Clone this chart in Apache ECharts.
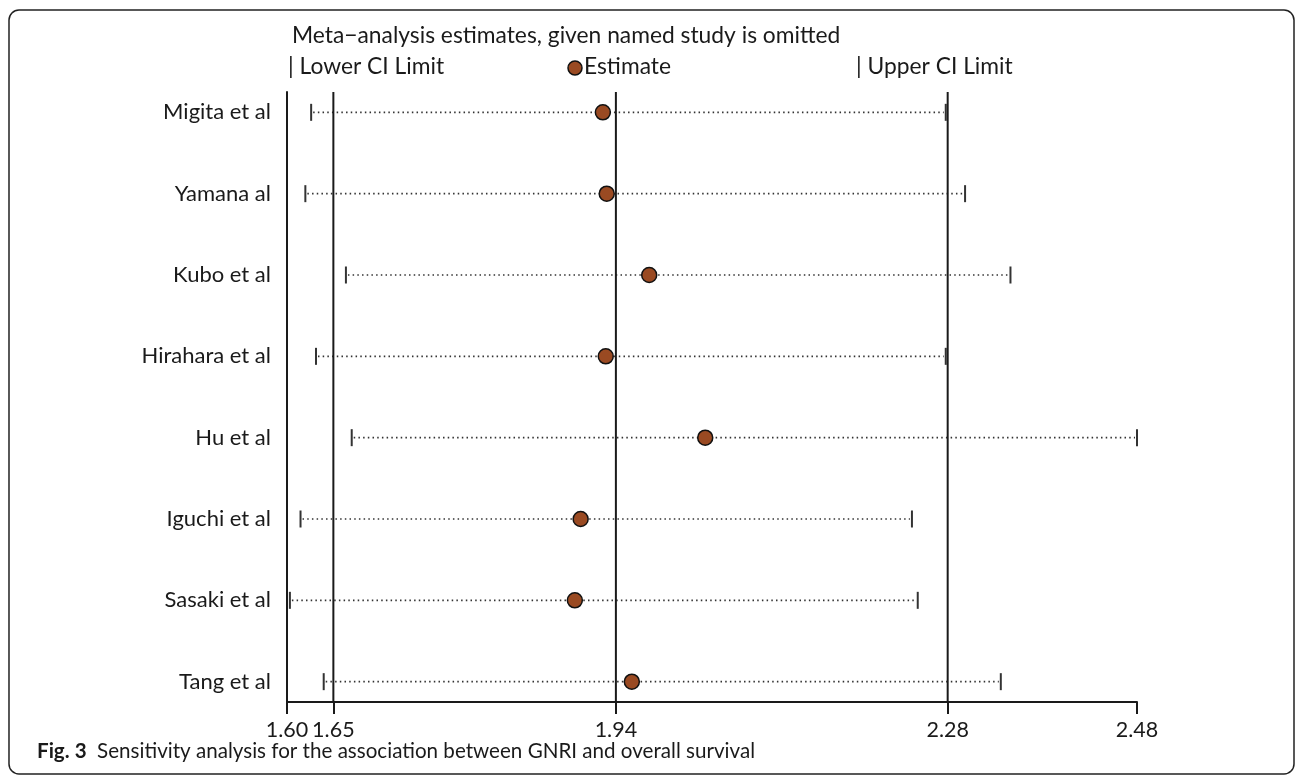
<!DOCTYPE html>
<html>
<head>
<meta charset="utf-8">
<script src="https://cdn.jsdelivr.net/npm/echarts@6/dist/echarts.min.js"></script>
<style>
html,body{margin:0;padding:0;background:#fff;}
#chart{width:1295px;height:776px;}
</style>
</head>
<body>
<div id="chart"></div>
<script>
// Data
const studies = ['Migita et al','Yamana al','Kubo et al','Hirahara et al','Hu et al','Iguchi et al','Sasaki et al','Tang et al'];
const lowerCI  = [1.625, 1.619, 1.661, 1.630, 1.667, 1.614, 1.603, 1.638];
const estimate = [1.927, 1.931, 1.975, 1.930, 2.033, 1.904, 1.898, 1.957];
const upperCI  = [2.282, 2.302, 2.349, 2.282, 2.480, 2.247, 2.253, 2.339];
const tickValues = [1.600, 1.648, 1.9405, 2.284, 2.480];
const refLines = [1.648, 1.9405, 2.284];
const rowIndex = studies.map((s, i) => i + 1);

const FONT = 'Lato, "Open Sans", sans-serif';
const chart = echarts.init(document.getElementById('chart'));

const ciData = studies.map((s, i) => [lowerCI[i], upperCI[i], rowIndex[i]]);
const estData = studies.map((s, i) => [estimate[i], rowIndex[i]]);
const refData = refLines.map(v => [v]);

const option = {
  animation: false,
  backgroundColor: '#fff',
  grid: { left: 287, right: 158, top: 92, bottom: 74, containLabel: false },
  xAxis: {
    type: 'value', min: 1.60, max: 2.48,
    axisLine: { show: true, lineStyle: { color: '#1a1a1a', width: 2 } },
    axisTick: { show: true, customValues: tickValues, length: 12, lineStyle: { color: '#1a1a1a', width: 2 } },
    axisLabel: { customValues: tickValues, formatter: v => v.toFixed(2), fontFamily: FONT, fontSize: 21.5, color: '#1a1a1a', margin: 17 },
    splitLine: { show: false }
  },
  yAxis: {
    type: 'value', min: 0.75, max: 8.25, inverse: true,
    axisLine: { show: true, lineStyle: { color: '#1a1a1a', width: 2 } },
    axisTick: { show: false },
    axisLabel: { customValues: rowIndex, formatter: v => studies[Math.round(v) - 1] || '', fontFamily: FONT, fontSize: 22, color: '#1a1a1a', margin: 16 },
    splitLine: { show: false }
  },
  series: [
    {
      type: 'custom',
      name: 'CI',
      data: ciData,
      encode: { x: [0, 1], y: 2 },
      renderItem: function (params, api) {
        const lo = api.coord([api.value(0), api.value(2)]);
        const hi = api.coord([api.value(1), api.value(2)]);
        const h = 8.5;
        return {
          type: 'group',
          children: [
            { type: 'line', shape: { x1: lo[0] + 2, y1: lo[1], x2: hi[0] - 2, y2: hi[1] },
              style: { stroke: '#333', lineWidth: 1.6, lineDash: [1.5, 3.2] } },
            { type: 'line', shape: { x1: lo[0], y1: lo[1] - h, x2: lo[0], y2: lo[1] + h },
              style: { stroke: '#333', lineWidth: 2 } },
            { type: 'line', shape: { x1: hi[0], y1: hi[1] - h, x2: hi[0], y2: hi[1] + h },
              style: { stroke: '#333', lineWidth: 2 } }
          ]
        };
      },
      z: 2
    },
    {
      type: 'custom',
      name: 'ref',
      data: refData,
      encode: { x: 0 },
      silent: true,
      renderItem: function (params, api) {
        const top = api.coord([api.value(0), 0.75]);
        const bot = api.coord([api.value(0), 8.25]);
        return { type: 'line', shape: { x1: top[0], y1: top[1], x2: bot[0], y2: bot[1] },
                 style: { stroke: '#1a1a1a', lineWidth: 2 } };
      },
      z: 3
    },
    {
      type: 'scatter',
      name: 'Estimate',
      data: estData,
      symbol: 'circle',
      symbolSize: 15,
      itemStyle: { color: '#9a4a22', borderColor: '#111', borderWidth: 1.5, opacity: 1 },
      z: 5
    }
  ],
  graphic: [
    { type: 'rect', shape: { x: 9, y: 10, width: 1285, height: 764, r: 10 },
      style: { fill: 'none', stroke: '#222', lineWidth: 1.5 }, silent: true },
    { type: 'text', left: 292, top: 24,
      style: { text: 'Meta\u2212analysis estimates, given named study is omitted', font: '22.8px ' + FONT, fill: '#1a1a1a' } },
    { type: 'text', left: 288, top: 55,
      style: { text: '| Lower CI Limit', font: '22.8px ' + FONT, fill: '#1a1a1a' } },
    { type: 'circle', shape: { cx: 575, cy: 68, r: 7 },
      style: { fill: '#9a4a22', stroke: '#111', lineWidth: 1.5 } },
    { type: 'text', left: 584, top: 55,
      style: { text: 'Estimate', font: '22.8px ' + FONT, fill: '#1a1a1a' } },
    { type: 'text', left: 856, top: 55,
      style: { text: '| Upper CI Limit', font: '22.8px ' + FONT, fill: '#1a1a1a' } },
    { type: 'text', left: 37, top: 741,
      style: {
        text: '{b|Fig. 3}  Sensitivity analysis for the association between GNRI and overall survival',
        font: '20.6px ' + FONT, fill: '#1a1a1a',
        rich: { b: { fontWeight: 'bold', fontSize: 20.6, fontFamily: FONT, fill: '#1a1a1a' } }
      } }
  ]
};
chart.setOption(option);
</script>
</body>
</html>
